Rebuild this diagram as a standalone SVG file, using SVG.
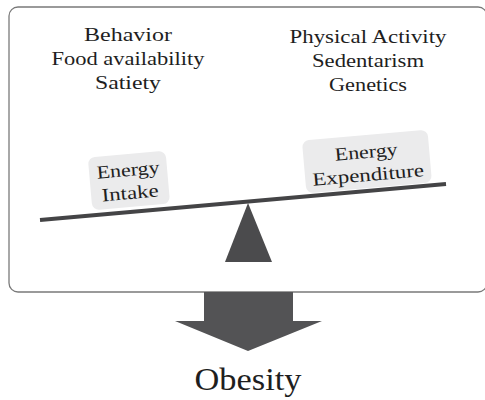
<svg xmlns="http://www.w3.org/2000/svg" width="485" height="400" viewBox="0 0 485 400">
  <style>
    .frame { fill: #ffffff; stroke: #7a7a7a; stroke-width: 1.3; }
    .lbl { font-size: 18.5px; fill: #1e1e1e; text-anchor: middle; }
    .big { font-size: 31px; fill: #1e1e1e; text-anchor: middle; }
    .tag { fill: #ebebec; }
    .dark { fill: #4b4b4d; }
  </style>

  <!-- outer frame (right side runs past the canvas edge) -->
  <g id="frame">
    <rect class="frame" x="9" y="7" width="478" height="285" rx="9" ry="9"/>
  </g>

  <g font-family="Liberation Serif, DejaVu Serif, Noto Serif, Times New Roman, serif">
    <!-- factors on the intake side -->
    <g id="intake-factors">
      <text class="lbl" x="128" y="41" textLength="88" lengthAdjust="spacingAndGlyphs">Behavior</text>
      <text class="lbl" x="128" y="65" textLength="153" lengthAdjust="spacingAndGlyphs">Food availability</text>
      <text class="lbl" x="128" y="89" textLength="66" lengthAdjust="spacingAndGlyphs">Satiety</text>
    </g>

    <!-- factors on the expenditure side -->
    <g id="expenditure-factors">
      <text class="lbl" x="368" y="43" textLength="157" lengthAdjust="spacingAndGlyphs">Physical Activity</text>
      <text class="lbl" x="368" y="67" textLength="112" lengthAdjust="spacingAndGlyphs">Sedentarism</text>
      <text class="lbl" x="368" y="91" textLength="78" lengthAdjust="spacingAndGlyphs">Genetics</text>
    </g>

    <!-- balance beam and fulcrum -->
    <g id="beam">
      <line x1="40" y1="220" x2="446" y2="184" stroke="#444446" stroke-width="4"/>
    </g>
    <g id="fulcrum">
      <polygon class="dark" points="248,203 272,262 225,262"/>
    </g>

    <!-- tilted tags resting on the beam -->
    <g id="energy-intake" transform="translate(129,181) rotate(-5)">
      <rect class="tag" x="-39" y="-27" width="78" height="53" rx="7" ry="7"/>
      <text class="lbl" x="0" y="-5" textLength="63" lengthAdjust="spacingAndGlyphs">Energy</text>
      <text class="lbl" x="0" y="18" textLength="57" lengthAdjust="spacingAndGlyphs">Intake</text>
    </g>
    <g id="energy-expenditure" transform="translate(367,162) rotate(-5)">
      <rect class="tag" x="-63" y="-27" width="126" height="53" rx="7" ry="7"/>
      <text class="lbl" x="0" y="-4" textLength="63" lengthAdjust="spacingAndGlyphs">Energy</text>
      <text class="lbl" x="0" y="19" textLength="112" lengthAdjust="spacingAndGlyphs">Expenditure</text>
    </g>

    <!-- outcome arrow -->
    <g id="connectors">
      <polygon fill="#535355" points="204,292 293,292 293,321 322,321 248,351 175,321 204,321"/>
    </g>

    <g id="obesity">
      <text class="big" x="248" y="390" textLength="107" lengthAdjust="spacingAndGlyphs">Obesity</text>
    </g>
  </g>
</svg>
